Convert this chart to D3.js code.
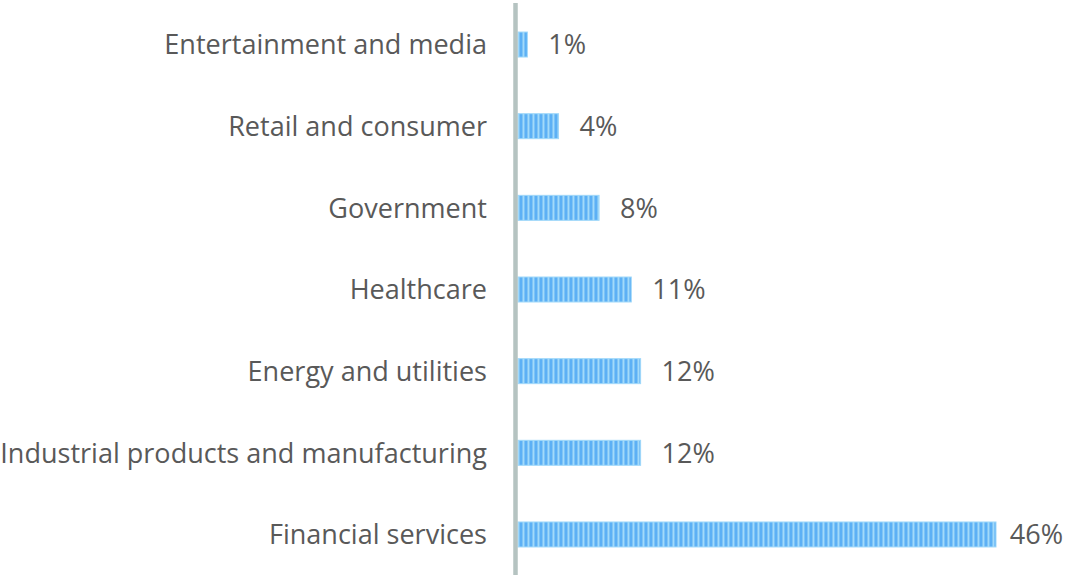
<!DOCTYPE html>
<html>
<head>
<meta charset="utf-8">
<script src="https://cdn.jsdelivr.net/npm/d3@7"></script>
<style>
  body { margin: 0; background: #fff; }
  svg { display: block; }
</style>
</head>
<body>
<div id="chart"></div>
<script>
// sectors, top to bottom, and their shares in percent
var sectors = ["Entertainment and media", "Retail and consumer", "Government",
  "Healthcare", "Energy and utilities", "Industrial products and manufacturing",
  "Financial services"];
var shares = [0.9, 3.9, 7.8, 10.9, 11.8, 11.8, 46];
var shareLabels = ["1%", "4%", "8%", "11%", "12%", "12%", "46%"];

var width = 1067, height = 575;
var axisX = 515.5, barStart = 518;
var fontFamily = "'Open Sans', 'Noto Sans', sans-serif";

var svg = d3.select("#chart")
  .append("svg")
  .attr("width", width)
  .attr("height", height);

// striped fill for the bars
var pat = svg.append("defs").append("pattern")
  .attr("id", "stripes")
  .attr("patternUnits", "userSpaceOnUse")
  .attr("width", 5)
  .attr("height", 10);
pat.append("rect").attr("width", 5).attr("height", 10).attr("fill", "#5cb0f5");
pat.append("rect").attr("x", 2).attr("width", 0.8).attr("height", 10).attr("fill", "#7ec4f7");
pat.append("rect").attr("x", 2.8).attr("width", 1.6).attr("height", 10).attr("fill", "#a2dafa");
pat.append("rect").attr("x", 4.4).attr("width", 0.6).attr("height", 10).attr("fill", "#7ec4f7");

var x = d3.scaleLinear()
  .domain([0, 46])
  .range([barStart, 996]);

var y = d3.scaleBand()
  .domain(sectors)
  .range([3.7, 575.3])
  .paddingInner(0.694)
  .paddingOuter(0.347);

// category labels
var names = svg.append("g")
  .selectAll("text")
  .data(sectors)
  .enter().append("text")
  .attr("x", 487)
  .attr("y", function(d) { return y(d) + y.bandwidth() / 2; })
  .attr("dy", "0.36em")
  .attr("text-anchor", "end")
  .attr("font-family", fontFamily)
  .attr("font-size", 24)
  .attr("fill", "#595959")
  .text(function(d) { return d; });

// size the font so the longest label spans the same width as in the original
var longest = d3.max(names.nodes(), function(n) { return n.getComputedTextLength(); });
var fontSize = 24 * 487 / longest;
names.attr("font-size", fontSize);

// bars
svg.append("g")
  .selectAll("rect")
  .data(shares)
  .enter().append("rect")
  .attr("x", x(0))
  .attr("y", function(d, i) { return y(sectors[i]); })
  .attr("width", function(d) { return x(d) - x(0); })
  .attr("height", y.bandwidth())
  .attr("fill", "url(#stripes)")
  .attr("stroke", "#a0d8f9")
  .attr("stroke-width", 1);

// value labels, pulled back in when they would run past the right edge
svg.append("g")
  .selectAll("text")
  .data(shares)
  .enter().append("text")
  .attr("y", function(d, i) { return y(sectors[i]) + y.bandwidth() / 2; })
  .attr("dy", "0.36em")
  .attr("font-family", fontFamily)
  .attr("font-size", fontSize)
  .attr("fill", "#595959")
  .text(function(d, i) { return shareLabels[i]; })
  .attr("x", function(d) {
    var w = this.getComputedTextLength();
    return Math.min(x(d) + 21, width - 4 - w);
  });

// vertical axis line
svg.append("line")
  .attr("x1", axisX).attr("x2", axisX)
  .attr("y1", 3).attr("y2", height)
  .attr("stroke", "#b5c3c1")
  .attr("stroke-width", 4.5);
</script>
</body>
</html>
